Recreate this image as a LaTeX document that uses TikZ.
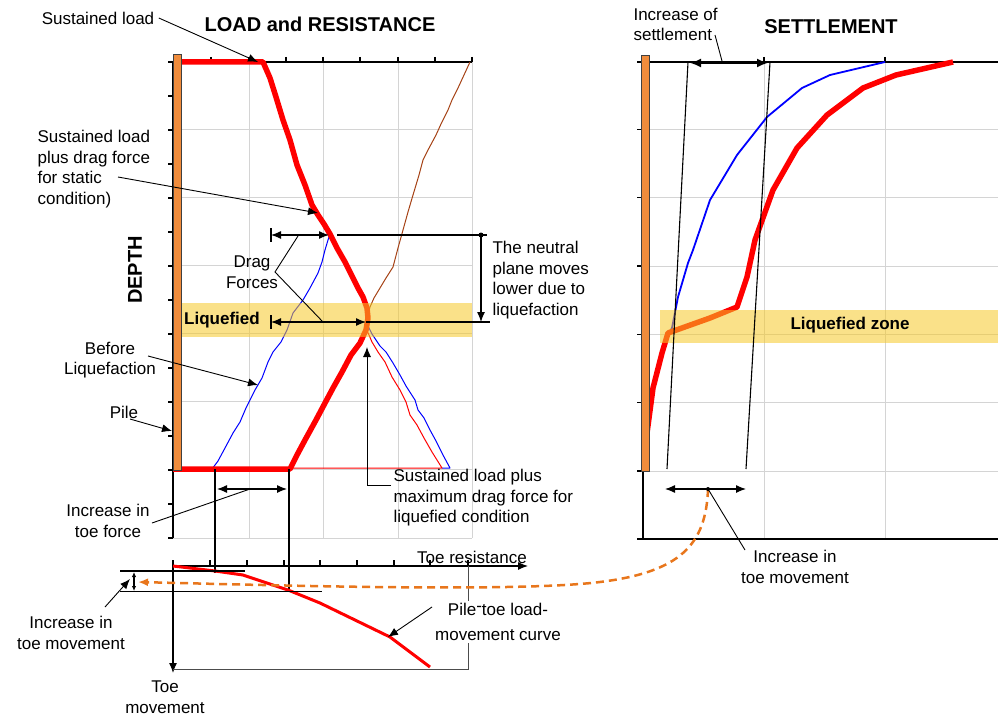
\documentclass[tikz,border=0pt]{standalone}
\usepackage{fontspec}
\setmainfont{Liberation Sans}
\usetikzlibrary{arrows.meta}
\definecolor{pilefill}{RGB}{240,140,60}
\definecolor{loadred}{RGB}{255,0,0}
\definecolor{resbrown}{RGB}{165,65,20}
\definecolor{gridgray}{RGB}{212,212,212}
\definecolor{bandyellow}{RGB}{245,200,40}
\definecolor{dashorange}{RGB}{232,118,28}

\begin{document}
\begin{tikzpicture}[x=1pt,y=-1pt,line width=1.1pt,>={Latex[length=10pt,width=8pt]},
  lbl/.style={font=\fontsize{17}{20.5}\selectfont,inner sep=0pt},
  lblb/.style={font=\fontsize{17}{20.5}\selectfont\bfseries,inner sep=0pt},
  ttl/.style={font=\fontsize{20}{24}\selectfont\bfseries,inner sep=0pt},
  gridline/.style={gridgray,line width=1pt},
  pile/.style={fill=pilefill,draw=black!75,line width=0.8pt},
  thickload/.style={loadred,line width=5.5pt,line join=round},
  thinload/.style={line width=1pt,line join=round},
  band/.style={fill=bandyellow,fill opacity=0.55},
  leader/.style={line width=0.9pt},
  dim/.style={line width=1.2pt}]
\useasboundingbox (0,0) rectangle (998,717);

\foreach \gx in {249,323,398,472} \draw[gridline] (\gx,62) -- (\gx,538);
\foreach \gy in {129.8,197.7,265.5,333.3,401,469,538} \draw[gridline] (173,\gy) -- (472,\gy);
\draw (173,62) -- (472,62);
\draw (173,62) -- (173,538);
\foreach \ty in {62,96,...,538} \draw (168,\ty) -- (173,\ty);
\foreach \tx in {211,249,286,323,360,398,435,472} \draw (\tx,57) -- (\tx,62);

\draw[thinload,resbrown] (470,62) -- (464,75) -- (458,88) -- (452,100) -- (448,110) -- (441,124) -- (436,135) -- (428,150) -- (423,160) -- (419,175) -- (413,195) -- (408,212) -- (403,230) -- (398,248) -- (393,267) -- (386,278) -- (380,288) -- (374,298) -- (370,307) -- (367,318);
\draw[thinload,blue] (212,469) -- (218,461) -- (225,448) -- (233,433) -- (240,422) -- (246,408) -- (255,390) -- (262,378) -- (268,362) -- (273,352) -- (281,342) -- (287,330) -- (293,313) -- (303,300) -- (310,288) -- (318,273) -- (322,262) -- (325,250) -- (328,240) -- (330,234);
\draw[thinload,blue] (366,322) -- (372,334) -- (380,346) -- (386,352) -- (393,363) -- (400,375) -- (406,386) -- (415,400) -- (418,410) -- (424,418) -- (430,430) -- (436,441) -- (443,455) -- (450,468) -- (442,468);
\draw[thinload,loadred] (366,328) -- (372,342) -- (378,352) -- (385,362) -- (392,377) -- (400,390) -- (406,402) -- (410,415) -- (417,425) -- (424,438) -- (432,452) -- (442,468) -- (290,468);
\draw[thickload] (173,62) -- (263,62) -- (270,78) -- (276,97) -- (283,120) -- (290,140) -- (297,165) -- (305,185) -- (312,205) -- (318,215) -- (324,224) -- (330,234) -- (337,248) -- (345,262) -- (351,274) -- (358,288) -- (363,297) -- (367,308) -- (368,318) -- (366,330) -- (360,343) -- (351,355) -- (342,372) -- (333,388) -- (325,403) -- (316,420) -- (305,440) -- (297,455) -- (290,469) -- (173,469);
\fill[band] (180,303) rectangle (472,337);
\draw[pile] (173,54) rectangle (181,470);

\node[ttl] (loadtitle) at (320,24) {LOAD and RESISTANCE};
\node[ttl,rotate=90] (depth) at (135,270) {DEPTH};
\node[lblb] (liqleft) at (222,320) {Liquefied};

\node[lbl] (sustained) at (98,18) {Sustained load};
\coordinate (sustained tip) at (258,62);
\draw[->,leader] ([xshift=4pt]sustained.east) -- (sustained tip);

\node[lbl,align=left,anchor=west] (staticlbl) at (37,169) {Sustained load\\plus drag force\\for static\\condition)};
\coordinate (static start) at (118,177);
\coordinate (static tip) at (318,213);
\draw[->,leader] (static start) -- (static tip);

\coordinate (drag top) at (271,235);
\coordinate (drag topend) at (329,235);
\coordinate (neutral old) at (481,235);
\coordinate (neutral new) at (481,322);
\coordinate (drag low) at (271,322);
\coordinate (drag lowend) at (366,322);
\draw[dim] (271,228) -- (271,242);
\draw[<->,dim] (drag top) -- (drag topend);
\draw[dim] (337,235) -- (487,235);
\fill (neutral old) circle (2.5);
\draw[->,dim] (neutral old) -- (neutral new);
\draw[dim] (271,315) -- (271,329);
\draw[<->,dim] (drag low) -- (drag lowend);
\draw[dim] (drag lowend) -- (490,322);

\node[lbl,align=center] (drag) at (252,272) {Drag\\Forces};
\coordinate (drag fork) at (275,272);
\draw[leader] (298,236) -- (drag fork) -- (323,322);

\node[lbl,align=left,anchor=west] (neutral) at (492,280) {The neutral\\plane moves\\lower due to\\liquefaction};

\node[lbl,align=center] (before) at (110,360) {Before\\Liquefaction};
\coordinate (before tip) at (258,385);
\draw[->,leader] (148,356) -- (before tip);

\node[lbl] (pilelbl) at (124,412) {Pile};
\coordinate (pile tip) at (172,431);
\draw[->,leader] (130,419) -- (pile tip);

\node[lbl,align=left,anchor=west] (maxdrag) at (393,498) {Sustained load plus\\maximum drag force for\\liquefied condition};
\coordinate (maxdrag tip) at (367,347);
\draw[->,leader] (391,485) -- (367,485) -- (maxdrag tip);

\draw[line width=2.4pt] (215,469) -- (215,573);
\draw[line width=2.4pt] (289,469) -- (289,592);
\draw[<->,dim] (217,489) -- (287,489);
\node[lbl,align=center] (toeforce) at (108,521) {Increase in\\toe force};
\draw[leader] (152,523) -- (250,489);

\draw[->,dim] (173,566) -- (528,566);
\draw[->,dim] (173,560) -- (173,673);
\foreach \tx in {210,247,284,320,357,394,430,468} \draw (\tx,560) -- (\tx,566);
\draw[line width=1.8pt] (380,566) -- (468,566);
\draw[black!70,line width=1pt] (173,669) -- (468,669) -- (468,566);
\node[lbl,anchor=base] (toeres) at (472,563) {Toe resistance};
\draw[loadred,line width=3pt,line join=round] (173,566) -- (215,571) -- (243,575) -- (288,590) -- (320,603) -- (390,637) -- (430,667);
\draw (120,571) -- (245,571);
\draw (120,591.5) -- (322,591.5);
\draw[<->,>={Latex[length=5pt,width=4.5pt]}] (134,572) -- (134,591);

\node[lbl,align=center] (toemove) at (71,633) {Increase in\\toe movement};
\coordinate (toemove tip) at (130,579);
\draw[->,leader] (105,607) -- (toemove tip);
\node[lbl,align=center,fill=white,inner sep=2pt,font=\fontsize{17}{25}\selectfont] (toecurve) at (498,622) {Pile\raisebox{.45ex}{-}toe load-\\movement curve};
\coordinate (toecurve tip) at (388,637);
\draw[->,leader] (432,607) -- (toecurve tip);
\node[lbl,align=center] (toemovement) at (165,697) {Toe\\movement};

\foreach \gx in {764,885} \draw[gridline] (\gx,62) -- (\gx,539);
\foreach \gy in {129.3,197.7,266,334.3,402.7,471} \draw[gridline] (649,\gy) -- (998,\gy);
\draw (637,62) -- (998,62);
\draw (643,62) -- (643,539);
\draw (640,539) -- (998,539);
\foreach \ty in {62,129.3,197.7,266,334.3,402.7,471,539} \draw (637,\ty) -- (643,\ty);
\foreach \tx in {764,885} \draw (\tx,57) -- (\tx,62);

\draw[blue,line width=1.8pt,line join=round] (885,62) -- (830,75) -- (802,88) -- (767,117) -- (737,155) -- (710,200) -- (693,250) -- (688,263) -- (678,297) -- (672,328) -- (668,334);
\draw[thickload] (953,62) -- (896,75) -- (863,88) -- (827,115) -- (797,148) -- (773,190) -- (755,240) -- (747,277) -- (737,307) -- (710,318) -- (668,333) -- (662,353) -- (653,388) -- (647,433) -- (645,458);
\fill[band] (660,310) rectangle (998,343);
\draw[pile] (641,55) rectangle (649,471);
\draw (688,62) -- (667,469);
\draw (770,62) -- (746,469);
\draw[<->,line width=2.8pt,>={Latex[length=11pt,width=9pt]}] (690,63) -- (768,63);

\node[lbl,align=left,anchor=west] (incsettle) at (633,24.5) {Increase of\\settlement};
\draw[leader] (715,35) -- (722,61);
\node[ttl] (settletitle) at (831,27) {SETTLEMENT};
\node[lblb] (liqright) at (850,325) {Liquefied zone};

\draw[<->,dim] (665,489) -- (746,489);
\coordinate (toe shift) at (708,489);
\coordinate (toe shift left) at (138,582);
\draw[->,dashorange,line width=2.5pt,dash pattern=on 8pt off 5pt] (toe shift) .. controls (706,545) and (680,572) .. (600,582) .. controls (520,592) and (300,586) .. (toe shift left);
\fill (toe shift) circle (2);
\node[lbl,align=center] (toemoveright) at (795,567) {Increase in\\toe movement};
\draw[leader] (toe shift) -- (745,550);
\end{tikzpicture}
\end{document}
